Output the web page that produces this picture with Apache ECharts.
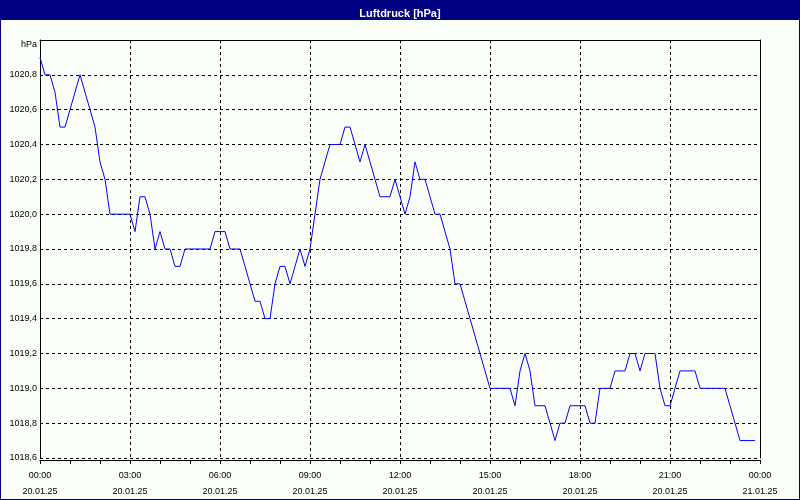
<!DOCTYPE html>
<html>
<head>
<meta charset="utf-8">
<script src="https://cdn.jsdelivr.net/npm/echarts@6/dist/echarts.min.js"></script>
<style>html,body{margin:0;padding:0;background:#fafffa}#c{width:800px;height:500px}</style>
</head>
<body>
<div id="c"></div>
<script>
// Chart title and axis unit
const chartTitle = 'Luftdruck [hPa]';
const unitLabel = 'hPa';
// Sampling interval of the measurements (minutes), starting 20.01.25 00:00
const sampleMinutes = 10;
// Pressure readings in hPa, one per sample
const pressure = [
  1020.9, 1020.8, 1020.8, 1020.7, 1020.5, 1020.5, 1020.6, 1020.7, 1020.8, 1020.7,
  1020.6, 1020.5, 1020.3, 1020.2, 1020.0, 1020.0, 1020.0, 1020.0, 1020.0, 1019.9,
  1020.1, 1020.1, 1020.0, 1019.8, 1019.9, 1019.8, 1019.8, 1019.7, 1019.7, 1019.8,
  1019.8, 1019.8, 1019.8, 1019.8, 1019.8, 1019.9, 1019.9, 1019.9, 1019.8, 1019.8,
  1019.8, 1019.7, 1019.6, 1019.5, 1019.5, 1019.4, 1019.4, 1019.6, 1019.7, 1019.7,
  1019.6, 1019.7, 1019.8, 1019.7, 1019.8, 1020.0, 1020.2, 1020.3, 1020.4, 1020.4,
  1020.4, 1020.5, 1020.5, 1020.4, 1020.3, 1020.4, 1020.3, 1020.2, 1020.1, 1020.1,
  1020.1, 1020.2, 1020.1, 1020.0, 1020.1, 1020.3, 1020.2, 1020.2, 1020.1, 1020.0,
  1020.0, 1019.9, 1019.8, 1019.6, 1019.6, 1019.5, 1019.4, 1019.3, 1019.2, 1019.1,
  1019.0, 1019.0, 1019.0, 1019.0, 1019.0, 1018.9, 1019.1, 1019.2, 1019.1, 1018.9,
  1018.9, 1018.9, 1018.8, 1018.7, 1018.8, 1018.8, 1018.9, 1018.9, 1018.9, 1018.9,
  1018.8, 1018.8, 1019.0, 1019.0, 1019.0, 1019.1, 1019.1, 1019.1, 1019.2, 1019.2,
  1019.1, 1019.2, 1019.2, 1019.2, 1019.0, 1018.9, 1018.9, 1019.0, 1019.1, 1019.1,
  1019.1, 1019.1, 1019.0, 1019.0, 1019.0, 1019.0, 1019.0, 1019.0, 1018.9, 1018.8,
  1018.7, 1018.7, 1018.7, 1018.7
];
// Axis ranges / ticks
const yMin = 1018.6, yMax = 1021.0, yStep = 0.2;
const xMinHours = 0, xMaxHours = 24, xStepHours = 3;
const dayLabels = ['20.01.25', '21.01.25'];

const seriesData = pressure.map((v, i) => [i * sampleMinutes / 60, v]);

const FONT = 'Liberation Sans';
const chart = echarts.init(document.getElementById('c'), null, {renderer: 'canvas'});
const pad = n => (n < 10 ? '0' : '') + n;

chart.setOption({
  backgroundColor: '#fafffa',
  animation: false,
  title: {
    text: chartTitle,
    left: 'center',
    top: 3,
    textStyle: {color: '#ffffff', fontSize: 11, fontWeight: 'bold', fontFamily: FONT}
  },
  graphic: [
    {type: 'rect', z: -1, silent: true, shape: {x: 0, y: 0, width: 800, height: 20}, style: {fill: '#000080'}},
    {type: 'rect', z: 100, silent: true, shape: {x: 0.5, y: 0.5, width: 799, height: 499}, style: {fill: 'none', stroke: '#000080', lineWidth: 1}}
  ],
  grid: {left: 40, right: 40, top: 40, bottom: 42, containLabel: false},
  xAxis: [{
    type: 'value', min: xMinHours, max: xMaxHours, interval: xStepHours, offset: 2,
    axisLine: {show: true, lineStyle: {color: '#000', width: 1}},
    axisTick: {show: true, length: 4, lineStyle: {color: '#000'}},
    minorTick: {show: true, splitNumber: 3, length: 4, lineStyle: {color: '#000'}},
    splitLine: {show: true, lineStyle: {color: '#000', type: [3, 3], width: 1}},
    axisLabel: {
      margin: 8, color: '#000', fontSize: 9, fontFamily: FONT, lineHeight: 16,
      formatter: v => pad(v % 24) + ':00\n' + dayLabels[Math.floor(v / 24)]
    }
  }, {
    type: 'value', position: 'top', min: xMinHours, max: xMaxHours,
    axisLine: {show: true, onZero: false, lineStyle: {color: '#000'}},
    axisTick: {show: false}, axisLabel: {show: false}, splitLine: {show: false}
  }],
  yAxis: [{
    type: 'value', min: yMin, max: yMax, interval: yStep,
    axisLine: {show: true, lineStyle: {color: '#000', width: 1}},
    axisTick: {show: false},
    splitLine: {show: true, lineStyle: {color: '#000', type: [3, 3], width: 1}},
    axisLabel: {
      margin: 3, color: '#000', fontSize: 9, fontFamily: FONT,
      verticalAlignMaxLabel: 'top',
      formatter: v => (Math.abs(v - yMax) < 1e-6 ? unitLabel : v.toFixed(1).replace('.', ','))
    }
  }, {
    type: 'value', position: 'right', min: yMin, max: yMax,
    axisLine: {show: true, onZero: false, lineStyle: {color: '#000'}},
    axisTick: {show: false}, axisLabel: {show: false}, splitLine: {show: false}
  }],
  series: [{
    type: 'line', xAxisIndex: 0, yAxisIndex: 0,
    data: seriesData, showSymbol: false, symbol: 'none',
    lineStyle: {color: '#0000ff', width: 1}
  }]
});
</script>
</body>
</html>
